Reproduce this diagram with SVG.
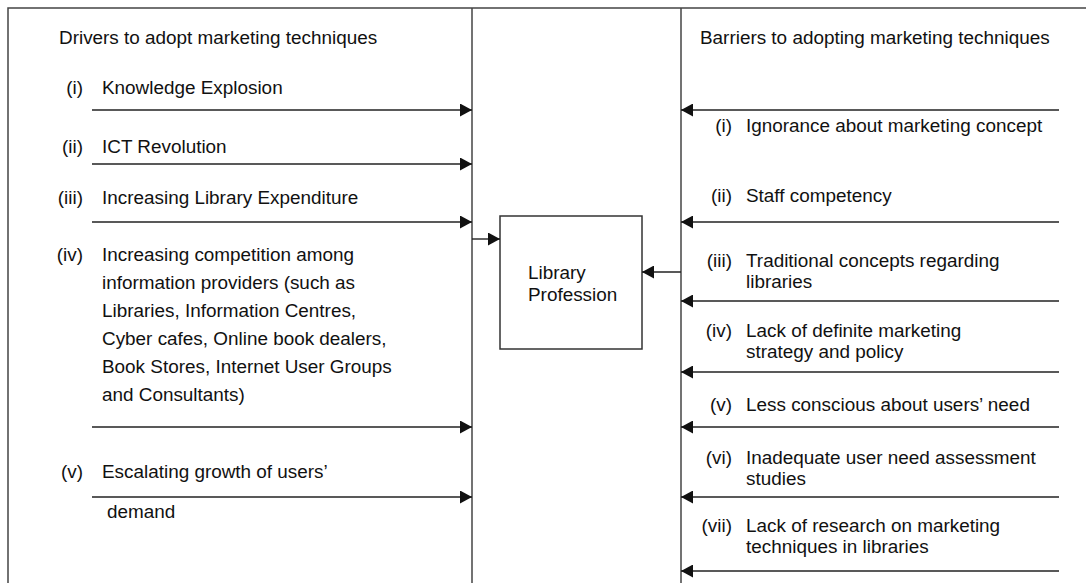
<svg xmlns="http://www.w3.org/2000/svg" width="1086" height="583" viewBox="0 0 1086 583">
<style>
text{font-family:"Liberation Sans",Arial,Helvetica,sans-serif;font-size:18.9px;fill:#111}
.num{text-anchor:end}
.frame{stroke:#444;stroke-width:1.5;fill:none}
.conn{stroke:#222;stroke-width:1.4;fill:none;marker-end:url(#ah)}
.box{stroke:#333;stroke-width:1.5;fill:#fff}
</style>
<defs>
<marker id="ah" markerUnits="userSpaceOnUse" markerWidth="12" markerHeight="13" refX="12" refY="6.5" orient="auto">
<path d="M0,0 L12,6.5 L0,13 z" fill="#111"/>
</marker>
</defs>
<rect x="0" y="0" width="1086" height="583" fill="#fff"/>
<g id="frame">
<path class="frame" d="M8,583 V8 H1086"/>
<path class="frame" d="M472,8 V583"/>
<path class="frame" d="M681,8 V583"/>
</g>
<g id="drivers-header"><text x="59" y="44">Drivers to adopt marketing techniques</text></g>
<g id="driver-1"><text class="num" x="83" y="94">(i)</text><text x="102" y="94">Knowledge Explosion</text></g>
<g id="driver-2"><text class="num" x="83" y="153">(ii)</text><text x="102" y="153">ICT Revolution</text></g>
<g id="driver-3"><text class="num" x="83" y="204">(iii)</text><text x="102" y="204">Increasing Library Expenditure</text></g>
<g id="driver-4"><text class="num" x="83" y="261">(iv)</text>
<text x="102" y="261">Increasing competition among</text>
<text x="102" y="289">information providers (such as</text>
<text x="102" y="317">Libraries, Information Centres,</text>
<text x="102" y="345">Cyber cafes, Online book dealers,</text>
<text x="102" y="373">Book Stores, Internet User Groups</text>
<text x="102" y="401">and Consultants)</text></g>
<g id="driver-5"><text class="num" x="83" y="478">(v)</text><text x="102" y="478">Escalating growth of users’</text><text x="107" y="518">demand</text></g>
<g id="library-profession">
<rect class="box" x="500" y="216" width="142" height="133"/>
<text x="528" y="279">Library</text>
<text x="528" y="301">Profession</text>
</g>
<g id="barriers-header"><text x="700" y="44">Barriers to adopting marketing techniques</text></g>
<g id="barrier-1"><text class="num" x="732" y="132">(i)</text><text x="746" y="132">Ignorance about marketing concept</text></g>
<g id="barrier-2"><text class="num" x="732" y="202">(ii)</text><text x="746" y="202">Staff competency</text></g>
<g id="barrier-3"><text class="num" x="732" y="267">(iii)</text><text x="746" y="267">Traditional concepts regarding</text><text x="746" y="288">libraries</text></g>
<g id="barrier-4"><text class="num" x="732" y="337">(iv)</text><text x="746" y="337">Lack of definite marketing</text><text x="746" y="358">strategy and policy</text></g>
<g id="barrier-5"><text class="num" x="732" y="411">(v)</text><text x="746" y="411">Less conscious about users’ need</text></g>
<g id="barrier-6"><text class="num" x="732" y="464">(vi)</text><text x="746" y="464">Inadequate user need assessment</text><text x="746" y="485">studies</text></g>
<g id="barrier-7"><text class="num" x="732" y="532">(vii)</text><text x="746" y="532">Lack of research on marketing</text><text x="746" y="553">techniques in libraries</text></g>
<g id="connectors">
<line class="conn" x1="92" y1="110" x2="472" y2="110"/>
<line class="conn" x1="92" y1="164" x2="472" y2="164"/>
<line class="conn" x1="92" y1="222" x2="472" y2="222"/>
<line class="conn" x1="92" y1="427" x2="472" y2="427"/>
<line class="conn" x1="92" y1="497" x2="472" y2="497"/>
<line class="conn" x1="472" y1="239" x2="500" y2="239"/>
<line class="conn" x1="681" y1="272" x2="642" y2="272"/>
<line class="conn" x1="1059" y1="110" x2="681" y2="110"/>
<line class="conn" x1="1059" y1="222" x2="681" y2="222"/>
<line class="conn" x1="1059" y1="301" x2="681" y2="301"/>
<line class="conn" x1="1059" y1="372" x2="681" y2="372"/>
<line class="conn" x1="1059" y1="427" x2="681" y2="427"/>
<line class="conn" x1="1059" y1="497" x2="681" y2="497"/>
<line class="conn" x1="1059" y1="571" x2="681" y2="571"/>
</g>
</svg>
